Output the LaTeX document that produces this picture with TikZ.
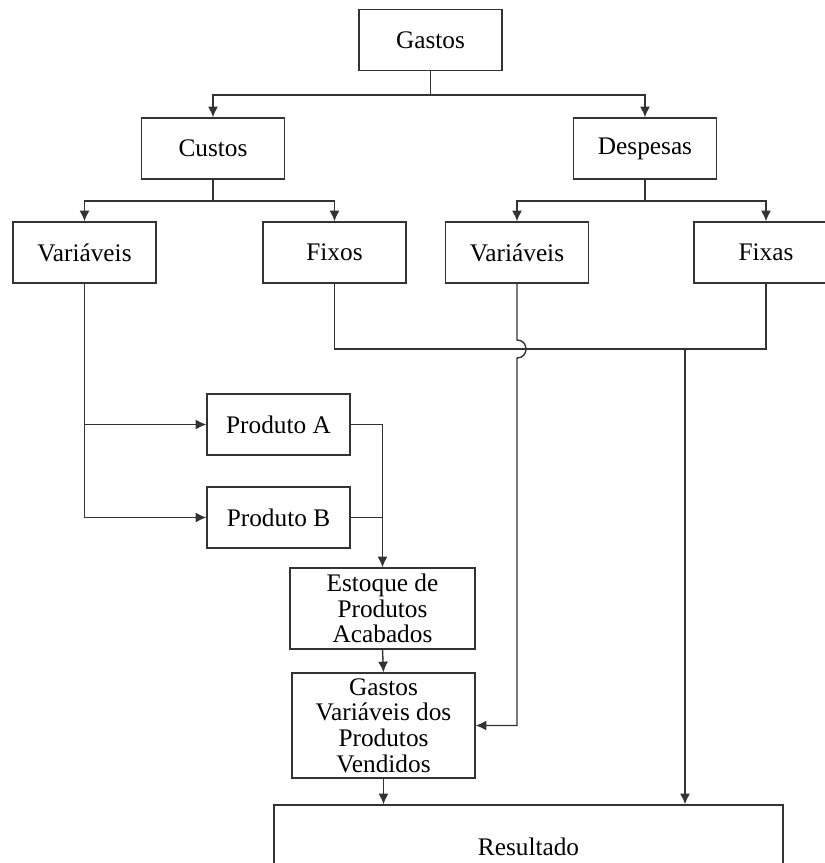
\documentclass[tikz,border=0pt]{standalone}
\usepackage{fontspec}
\setmainfont{Liberation Serif}
\usetikzlibrary{arrows.meta,positioning}

\begin{document}
\begin{tikzpicture}[x=0.15mm, y=-0.15mm, >={Latex[length=1.6mm,width=1.5mm]},
	line width=0.6pt, color=black!80, font=\fontsize{10.8}{10.9}\selectfont,
	box/.style={draw, text=black, align=center, inner sep=0pt, minimum width=21.45mm, minimum height=9.15mm}]
	\clip (0,0) rectangle (825,863);

	\node[box] (gastos) at (430.5,40) {Gastos};
	\node[box] (custos) at (213,148.5) {Custos};
	\node[box] (despesas) at (645,148.5) {Despesas};
	\node[box] (cvar) at (84.5,252.5) {Variáveis};
	\node[box] (cfix) at (334.5,252.5) {Fixos};
	\node[box] (dvar) at (517,252.5) {Variáveis};
	\node[box, minimum width=21.6mm] (dfix) at (766,252.5) {Fixas};
	\node[box] (prodA) at (278.5,424.5) {Produto A};
	\node[box] (prodB) at (278.5,517.5) {Produto B};
	\node[box, minimum width=27.75mm, minimum height=12.15mm] (estoque) at (382.5,608.5) {Estoque de\\Produtos\\Acabados};
	\node[box, minimum width=27.45mm, minimum height=15.75mm] (gvpv) at (383.5,725.5) {Gastos\\Variáveis dos\\Produtos\\Vendidos};
	\node[box, minimum width=76.35mm, minimum height=12.6mm] (resultado) at (528.5,847) {Resultado};

	\coordinate (gsplit) at (430.5,95);
	\coordinate (csplit) at (213,201);
	\coordinate (dsplit) at (645,201);
	\coordinate (fixjoin) at (766,349);
	\coordinate (fixdrop) at (685,349);

	\draw (gastos.south) -- (gsplit);
	\draw[->] (gsplit) -| (custos.north);
	\draw[->] (gsplit) -| (despesas.north);

	\draw (custos.south) -- (csplit);
	\draw[->] (csplit) -| (cvar.north);
	\draw[->] (csplit) -| (cfix.north);

	\draw (despesas.south) -- (dsplit);
	\draw[->] (dsplit) -| (dvar.north);
	\draw[->] (dsplit) -| (dfix.north);

	\draw (cfix.south) |- (fixjoin) -- (dfix.south);
	\draw[->] (fixdrop) -- (fixdrop |- resultado.north);

	% jump over the line of the fixed costs
	\draw[->] (dvar.south) -- (517,340) .. controls (529,340) and (529,358) .. (517,358) |- (gvpv.east);

	\draw[->] (cvar.south) |- (prodB.west);
	\draw[->] (cvar.south |- prodA.west) -- (prodA.west);
	\draw[->] (prodA.east) -| (estoque.north);
	\draw (prodB.east) -- (prodB.east -| estoque.north);

	\draw[->] (estoque.south) -- (gvpv.north);
	\draw[->] (gvpv.south) -- (gvpv.south |- resultado.north);
\end{tikzpicture}
\end{document}
